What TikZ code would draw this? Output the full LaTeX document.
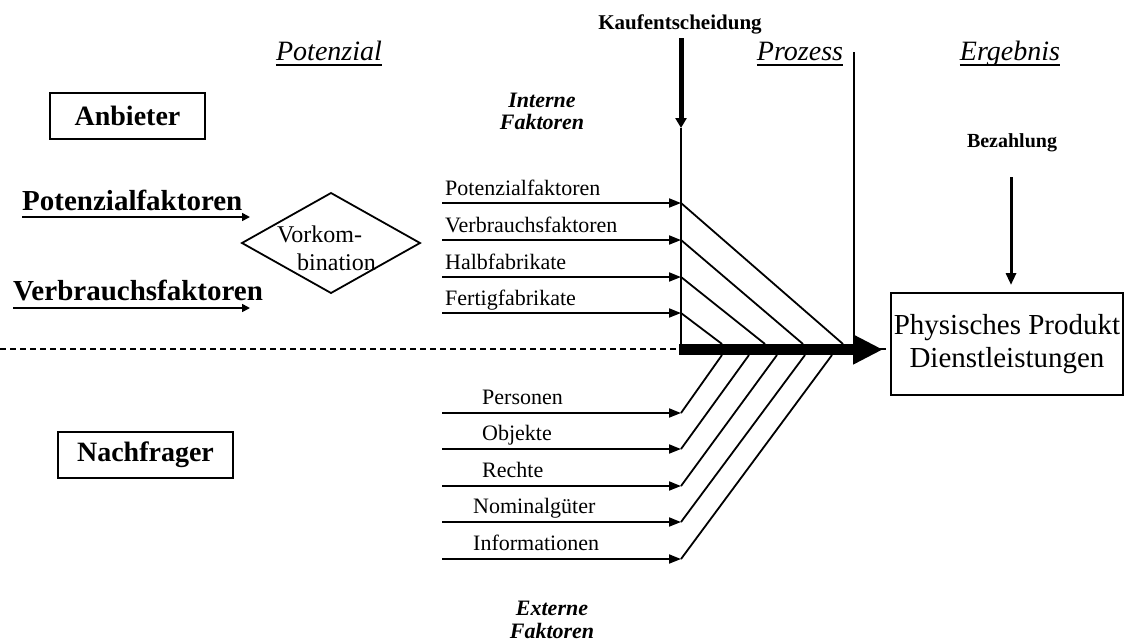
\documentclass[tikz,border=0pt]{standalone}
\usepackage{fontspec}
\setmainfont{Liberation Serif}
\usetikzlibrary{arrows.meta,calc}

\begin{document}
\begin{tikzpicture}[x=1pt,y=-1pt,
  thin/.style={line width=1.8pt},
  inarrow/.style={line width=1.8pt,-{Triangle[length=12pt,width=9pt]}},
  lbl/.style={font=\fontsize{22}{26}\selectfont,inner sep=0pt,anchor=base west},
  ttl/.style={font=\fontsize{28}{32}\selectfont\itshape,inner sep=0pt,anchor=base},
  bigbold/.style={font=\fontsize{29}{33}\selectfont\bfseries,inner sep=0pt,anchor=base west},
  smallbold/.style={font=\fontsize{21}{24}\selectfont\bfseries,inner sep=0pt,anchor=base},
  factors/.style={font=\fontsize{22}{24}\selectfont\bfseries\itshape,inner sep=0pt,anchor=base},
  framebox/.style={draw,line width=1.8pt,inner sep=0pt,font=\fontsize{28}{32}\selectfont\bfseries},
  uline/.style={line width=1.6pt}]
\useasboundingbox (0,0) rectangle (1131,643);

% --- column titles
\node[ttl] (tpot) at (329,60) {Potenzial};
\node[ttl] (tproz) at (800,60) {Prozess};
\node[ttl] (terg) at (1010,60) {Ergebnis};
\foreach \t in {tpot,tproz,terg}
  \draw[uline] ($(\t.base west)+(0,5)$) -- ($(\t.base east)+(0,5)$);

% --- dashed border between supplier and customer
\draw[line width=1.5pt,dash pattern=on 6pt off 4pt] (0,349) -- (891,349);

% --- supplier / customer
\node[framebox,minimum width=155pt,minimum height=46pt] (anb) at (127.5,116) {Anbieter};
\node[framebox,minimum width=175pt,minimum height=46pt] (nach) at (145.5,455) {Nachfrager};

\node[bigbold] (pf) at (22,210) {Potenzialfaktoren};
\node[bigbold] (vf) at (13,300) {Verbrauchsfaktoren};
\coordinate (pftip) at (250,217);
\coordinate (vftip) at (250,308);
\draw[uline,-{Triangle[length=8pt,width=8pt]}] ($(pf.base west)+(0,7)$) -- (pftip);
\draw[uline,-{Triangle[length=8pt,width=8pt]}] ($(vf.base west)+(0,8)$) -- (vftip);

% --- pre-combination
\coordinate (dl) at (242,243);
\coordinate (dt) at (331,193);
\coordinate (dr) at (420,243);
\coordinate (db) at (331,293);
\draw[thin,line join=miter] (dl) -- (dt) -- (dr) -- (db) -- cycle;
\node[font=\fontsize{24}{28}\selectfont,inner sep=0pt,anchor=base west] (vk1) at (277,242) {Vorkom-};
\node[font=\fontsize{24}{28}\selectfont,inner sep=0pt,anchor=base west] (vk2) at (297,270) {bination};

% --- purchase decision and process boundaries
\node[smallbold] (kauf) at (680,29) {Kaufentscheidung};
\coordinate (ktop) at (681,38);
\coordinate (ktip) at (681,128);
\coordinate (lbot) at (681,344);
\draw[line width=5pt,-{Triangle[length=10pt,width=11pt]}] (ktop) -- (ktip);
\draw[thin] (ktip) -- (lbot);
\coordinate (rtop) at (854,52);
\coordinate (rbot) at (854,344);
\draw[thin] (rtop) -- (rbot);

\node[factors] (int1) at (542,107) {Interne};
\node[factors] (int2) at (542,129) {Faktoren};
\node[factors] (ext1) at (552,615) {Externe};
\node[factors] (ext2) at (552,638) {Faktoren};

% --- internal factors
\foreach \nm/\txt/\y/\bx in {i1/Potenzialfaktoren/203/843, i2/Verbrauchsfaktoren/240/803,
                             i3/Halbfabrikate/277/765, i4/Fertigfabrikate/313/722} {
  \node[lbl] (\nm) at (445,\y-8) {\txt};
  \coordinate (\nm s) at (442,\y);
  \coordinate (\nm e) at (681,\y);
  \coordinate (\nm b) at (\bx,344);
  \draw[inarrow] (\nm s) -- (\nm e);
  \draw[thin] (\nm e) -- (\nm b);
}

% --- external factors
\foreach \nm/\txt/\y/\bx/\lx in {e1/Personen/413/722/482, e2/Objekte/449/749/482,
                                 e3/Rechte/486/777/482, e4/Nominalgüter/522/805/473,
                                 e5/Informationen/559/832/473} {
  \node[lbl] (\nm) at (\lx,\y-8.5) {\txt};
  \coordinate (\nm s) at (442,\y);
  \coordinate (\nm e) at (681,\y);
  \coordinate (\nm b) at (\bx,355);
  \draw[inarrow] (\nm s) -- (\nm e);
  \draw[thin] (\nm e) -- (\nm b);
}

% --- result
\node[draw,line width=1.8pt,minimum width=232pt,minimum height=102pt,inner sep=0pt,
      align=center,font=\fontsize{29}{33}\selectfont] (prod) at (1007,344)
      {Physisches Produkt\\Dienstleistungen};

% --- main process flow
\coordinate (flowstart) at (679,349.5);
\coordinate (flowtip) at (883,349.5);
\draw[line width=11pt,-{Triangle[length=30pt,width=28pt]}] (flowstart) -- (flowtip);

% --- payment
\node[smallbold,font=\fontsize{20}{24}\selectfont\bfseries] (bez) at (1012,147) {Bezahlung};
\coordinate (bztop) at (1011,177);
\coordinate (bztip) at (1011,285);
\draw[line width=3pt,-{Triangle[length=12pt,width=10pt]}] (bztop) -- (bztip);
\end{tikzpicture}
\end{document}
